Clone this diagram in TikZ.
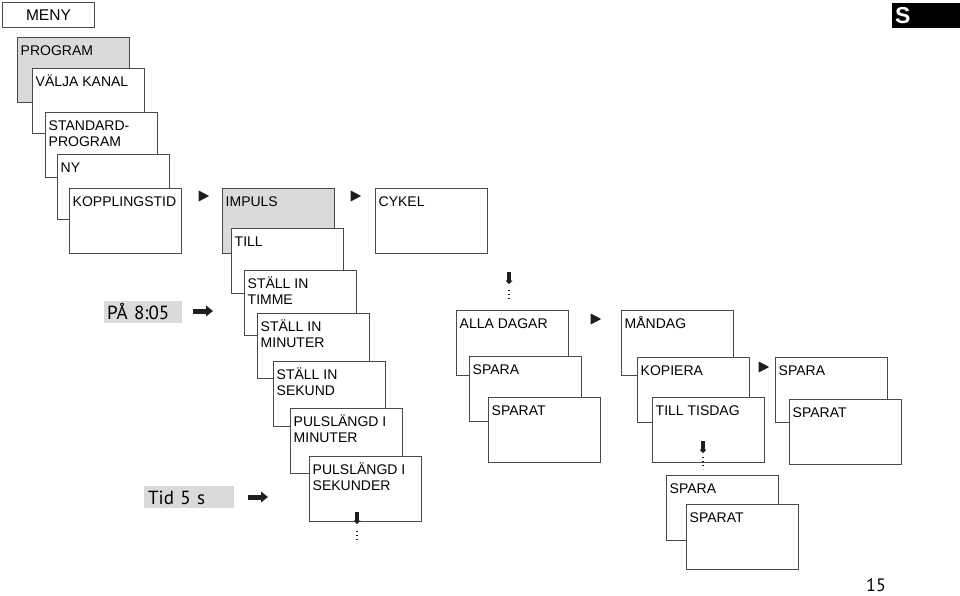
\documentclass[tikz,border=0pt]{standalone}
\usepackage{fontspec}
\setmainfont{Liberation Sans}
\newfontfamily\narrowfont{PT Sans}
\usetikzlibrary{shapes.geometric,arrows.meta}

\definecolor{framegray}{HTML}{4A4A4A}
\definecolor{shadegray}{HTML}{DADADA}
\definecolor{tipblack}{HTML}{1E1E1E}

\tikzset{
  screen/.style={draw=framegray, fill=white, line width=0.9pt,
    minimum width=112pt, minimum height=65pt, inner sep=0pt, anchor=north west},
  shadedscreen/.style={screen, fill=shadegray},
  screentext/.style={anchor=north west, inner sep=0pt, align=left,
    font=\fontsize{14}{16.5}\selectfont, shift={(3.5pt,-6.5pt)}},
  timebox/.style={fill=shadegray, inner sep=0pt, anchor=north west,
    font=\narrowfont\fontsize{19}{22}\selectfont, align=left,
    text height=14pt, text depth=0pt},
  playtip/.style={isosceles triangle, isosceles triangle stretches,
    fill=tipblack, inner sep=0pt, minimum width=11pt, minimum height=10.5pt},
  bigarrow/.style={draw=tipblack, line width=5pt, -{Triangle[width=10.5pt,length=7pt]}},
  downarrow/.style={draw=tipblack, line width=3.6pt, -{Triangle[width=7pt,length=3.5pt]}},
  dots/.style={draw=tipblack, line width=1.4pt, dash pattern=on 1.4pt off 2.6pt}
}

\begin{document}
\begin{tikzpicture}[x=1pt, y=-1pt]
  \useasboundingbox (0,0) rectangle (960,596);

  % header
  \node[draw=framegray, line width=0.9pt, minimum width=92pt, minimum height=25pt,
    inner sep=0pt, anchor=north west, font=\fontsize{15.5}{18}\selectfont] (meny) at (2,2) {MENY};
  \node[fill=black, minimum width=68pt, minimum height=25pt, anchor=north west] (lang) at (892,3) {};
  \node[anchor=west, inner sep=0pt, text=white, font=\bfseries\fontsize{23}{26}\selectfont] (langS) at (895,15.5) {S};

  % program menu stack
  \node[shadedscreen, label={[screentext]north west:\strut PROGRAM}] (prog) at (17,37) {};
  \node[screen, label={[screentext]north west:\strut VÄLJA KANAL}] (kanal) at (32,68) {};
  \node[screen, label={[screentext]north west:{\strut STANDARD-\\PROGRAM}}] (std) at (45,112) {};
  \node[screen, label={[screentext]north west:\strut NY}] (ny) at (57,154) {};
  \node[screen, label={[screentext]north west:\strut KOPPLINGSTID}] (kopp) at (69,188) {};
  \node[playtip] (tipA) at (202,196) {};
  \node[shadedscreen, label={[screentext]north west:\strut IMPULS}] (impuls) at (222,188) {};
  \node[playtip] (tipB) at (354,196) {};
  \node[screen, label={[screentext]north west:\strut CYKEL}] (cykel) at (375,188) {};

  % impulse settings
  \node[screen, label={[screentext]north west:\strut TILL}] (till) at (231,228) {};
  \node[screen, label={[screentext]north west:{\strut STÄLL IN\\TIMME}}] (timme) at (244,270) {};
  \node[screen, label={[screentext]north west:{\strut STÄLL IN\\MINUTER}}] (minut) at (257,313) {};
  \node[screen, label={[screentext]north west:{\strut STÄLL IN\\SEKUND}}] (sekund) at (273,361) {};
  \node[screen, label={[screentext]north west:{\strut PULSLÄNGD I\\MINUTER}}] (plmin) at (290,408) {};
  \node[screen, label={[screentext]north west:{\strut PULSLÄNGD I\\SEKUNDER}}] (plsek) at (309,456) {};

  % example values
  \node[timebox, minimum width=78pt, minimum height=22pt, text width=72pt] (pa) at (104,301) {PÅ 8:05};
  \node[timebox, minimum width=90pt, minimum height=22pt, text width=82pt] (tid) at (144,486) {Tid 5 s};
  \coordinate (paA) at (193,311);
  \coordinate (paB) at (213,311);
  \coordinate (tidA) at (248,497);
  \coordinate (tidB) at (268,497);
  \draw[bigarrow] (paA) -- (paB);
  \draw[bigarrow] (tidA) -- (tidB);

  % continue below pulse length
  \coordinate (plA) at (357,512);
  \coordinate (plB) at (357,524);
  \coordinate (plC) at (357,531);
  \coordinate (plD) at (357,543);
  \draw[downarrow] (plA) -- (plB);
  \draw[dots] (plC) -- (plD);

  % days
  \coordinate (dayA) at (509,272);
  \coordinate (dayB) at (509,284);
  \coordinate (dayC) at (509,290);
  \coordinate (dayD) at (509,301);
  \draw[downarrow] (dayA) -- (dayB);
  \draw[dots] (dayC) -- (dayD);
  \node[screen, label={[screentext]north west:\strut ALLA DAGAR}] (alla) at (456,310) {};
  \node[screen, label={[screentext]north west:\strut SPARA}] (sparaA) at (469,356) {};
  \node[screen, label={[screentext]north west:\strut SPARAT}] (sparatA) at (488,397) {};
  \node[playtip] (tipC) at (594,319) {};
  \node[screen, label={[screentext]north west:\strut MÅNDAG}] (mandag) at (621,310) {};
  \node[screen, label={[screentext]north west:\strut KOPIERA}] (kopiera) at (637,357) {};
  \node[screen, label={[screentext]north west:\strut TILL TISDAG}] (tisdag) at (652,397) {};
  \node[playtip] (tipD) at (762,367) {};
  \node[screen, label={[screentext]north west:\strut SPARA}] (sparaB) at (775,357) {};
  \node[screen, label={[screentext]north west:\strut SPARAT}] (sparatB) at (789,399) {};

  % copy on
  \coordinate (cpA) at (703,441);
  \coordinate (cpB) at (703,453);
  \coordinate (cpC) at (703,457);
  \coordinate (cpD) at (703,469);
  \draw[downarrow] (cpA) -- (cpB);
  \node[screen, label={[screentext]north west:\strut SPARA}] (sparaC) at (666,475) {};
  \node[screen, label={[screentext]north west:\strut SPARAT}] (sparatC) at (686,504) {};
  \draw[dots] (cpC) -- (cpD);

  % page number
  \node[anchor=base, inner sep=0pt, font=\narrowfont\fontsize{18}{20}\selectfont] (page) at (876,591) {15};
\end{tikzpicture}
\end{document}
